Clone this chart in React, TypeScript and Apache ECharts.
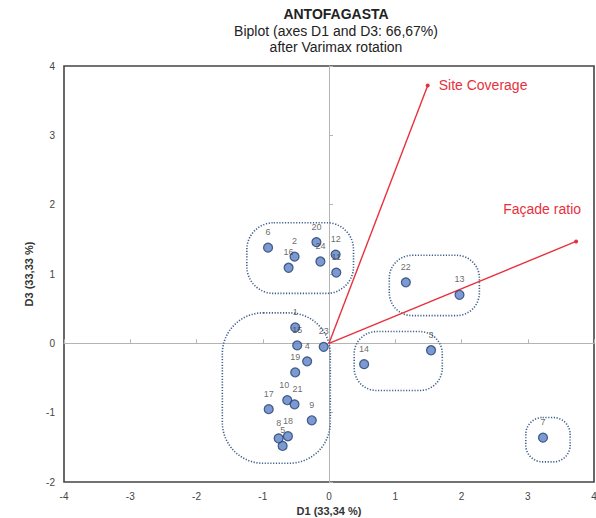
import React, { useEffect, useRef } from "react";
import * as echarts from "echarts";

// Observation scores on D1 / D3 (after Varimax rotation)
const obsLabels = [
  "1", "2", "3", "4", "5", "6", "7", "8", "9", "10", "11", "12",
  "13", "14", "15", "16", "17", "18", "19", "20", "21", "22", "23", "24",
];
const d1Scores = [
  -0.51, -0.52, 1.54, -0.33, -0.7, -0.92, 3.23, -0.76, -0.26, -0.63, 0.11, 0.1,
  1.97, 0.53, -0.48, -0.61, -0.91, -0.62, -0.51, -0.19, -0.52, 1.16, -0.08, -0.13,
];
const d3Scores = [
  0.23, 1.25, -0.1, -0.26, -1.48, 1.38, -1.36, -1.37, -1.11, -0.82, 1.02, 1.28,
  0.7, -0.3, -0.03, 1.09, -0.95, -1.34, -0.42, 1.46, -0.88, 0.88, -0.05, 1.18,
];

// Horizontal nudges for labels of points that sit close together
const labelNudge: Record<string, number> = { "10": -3, "21": 3 };

// Variable vectors
const varNames = ["Site Coverage", "Façade ratio"];
const varD1 = [1.49, 3.73];
const varD3 = [3.72, 1.47];

// Cluster outlines: [d1 min, d3 min, d1 max, d3 max]
const clusterBoxes = [
  [-1.24, 0.72, 0.37, 1.74],
  [-1.61, -1.73, 0.02, 0.44],
  [0.91, 0.4, 2.27, 1.27],
  [0.38, -0.68, 1.71, 0.17],
  [2.97, -1.71, 3.64, -1.07],
];

const xTicks = { min: -4, max: 4, interval: 1 };
const yTicks = { min: -2, max: 4, interval: 1 };

const RED = "#e8303c";
const LABEL_GREY = "#444";
const FONT = "'Liberation Sans', Arial, sans-serif";

export default function App() {
  const ref = useRef<HTMLDivElement>(null);

  useEffect(() => {
    if (!ref.current) return;
    const chart = echarts.init(ref.current, null, { renderer: "svg" });

    const pointLabel = {
      show: true,
      position: "top",
      distance: 6,
      formatter: "{b}",
      fontSize: 9,
      color: LABEL_GREY,
      fontFamily: FONT,
    };

    const points = obsLabels.map((n, i) => {
      const item: any = { name: n, value: [d1Scores[i], d3Scores[i]] };
      if (labelNudge[n]) item.label = { ...pointLabel, offset: [labelNudge[n], 0] };
      return item;
    });

    const vectorSeries = varNames.map((name, i) => ({
      type: "line",
      name,
      xAxisIndex: 0,
      yAxisIndex: 0,
      z: 3,
      lineStyle: { color: RED, width: 1.4 },
      itemStyle: { color: RED },
      symbolSize: 4,
      data: [
        { value: [0, 0], symbol: "none", label: { show: false } },
        {
          value: [varD1[i], varD3[i]],
          symbol: "circle",
          label:
            i === 0
              ? { show: true, position: "right", distance: 9, formatter: name, color: RED, fontSize: 14, fontFamily: FONT }
              : { show: true, position: "top", distance: 5, offset: [-34, -18], formatter: name, color: RED, fontSize: 14, fontFamily: FONT },
        },
      ],
    }));

    const baseX = {
      type: "value",
      ...xTicks,
      axisLine: { show: false },
      axisTick: { show: false },
      splitLine: { show: false },
    };
    const baseY = {
      type: "value",
      ...yTicks,
      axisLine: { show: false },
      axisTick: { show: false },
      splitLine: { show: false },
    };

    chart.setOption({
      animation: false,
      backgroundColor: "#ffffff",
      textStyle: { fontFamily: FONT },
      title: {
        text: "ANTOFAGASTA",
        subtext: "Biplot (axes D1 and D3: 66,67%)\nafter Varimax rotation",
        left: 331,
        top: 2,
        textAlign: "center",
        itemGap: 2,
        textStyle: { fontSize: 14, fontWeight: "bold", color: "#222", fontFamily: FONT },
        subtextStyle: { fontSize: 14, color: "#222", lineHeight: 16, fontFamily: FONT },
      },
      grid: {
        left: 64,
        right: 2,
        top: 66,
        bottom: 36,
        outerBoundsMode: "none",
        show: true,
        borderColor: "#444",
        borderWidth: 1.6,
        backgroundColor: "transparent",
      },
      xAxis: [
        {
          ...baseX,
          position: "bottom",
          name: "D1 (33,34 %)",
          nameLocation: "middle",
          nameGap: 18,
          nameTextStyle: { fontSize: 11, fontWeight: "bold", color: "#333", fontFamily: FONT, verticalAlign: "top" },
          axisLabel: { fontSize: 10, color: "#444", margin: 9, fontFamily: FONT },
        },
        {
          ...baseX,
          position: "top",
          axisLine: { show: true, onZero: true, onZeroAxisIndex: 0, lineStyle: { color: "#b4b4b4", width: 1 } },
          axisTick: { show: true, length: 4, lineStyle: { color: "#b4b4b4" } },
          axisLabel: { show: false },
        },
      ],
      yAxis: [
        {
          ...baseY,
          position: "left",
          name: "D3 (33,33 %)",
          nameLocation: "middle",
          nameRotate: 90,
          nameGap: 30,
          nameTextStyle: { fontSize: 11, fontWeight: "bold", color: "#333", fontFamily: FONT },
          axisLabel: { fontSize: 10, color: "#444", margin: 9, fontFamily: FONT },
        },
        {
          ...baseY,
          position: "right",
          axisLine: { show: true, onZero: true, onZeroAxisIndex: 0, lineStyle: { color: "#b4b4b4", width: 1 } },
          axisTick: { show: true, length: 4, lineStyle: { color: "#b4b4b4" } },
          axisLabel: { show: false },
        },
      ],
      series: [
        {
          type: "custom",
          xAxisIndex: 0,
          yAxisIndex: 0,
          z: 1,
          silent: true,
          encode: { x: [0, 2], y: [1, 3] },
          data: clusterBoxes,
          renderItem: (_params: any, api: any) => {
            const p1 = api.coord([api.value(0), api.value(3)]);
            const p2 = api.coord([api.value(2), api.value(1)]);
            const w = p2[0] - p1[0];
            const h = p2[1] - p1[1];
            const r = Math.min(w, h) * 0.38;
            return {
              type: "rect",
              shape: { x: p1[0], y: p1[1], width: w, height: h, r },
              style: { fill: "none", stroke: "#3f5f8c", lineWidth: 1.6, lineDash: [1.2, 1.6] },
            };
          },
        },
        ...vectorSeries,
        {
          type: "scatter",
          xAxisIndex: 0,
          yAxisIndex: 0,
          z: 4,
          symbolSize: 9,
          itemStyle: { color: "#5b80c6", borderColor: "#22406f", borderWidth: 1.2 },
          label: pointLabel,
          data: points,
        },
      ],
    });

    return () => chart.dispose();
  }, []);

  return (
    <div
      ref={ref}
      style={{ position: "fixed", left: 0, top: 0, width: 596, height: 518, background: "#fff" }}
    />
  );
}
